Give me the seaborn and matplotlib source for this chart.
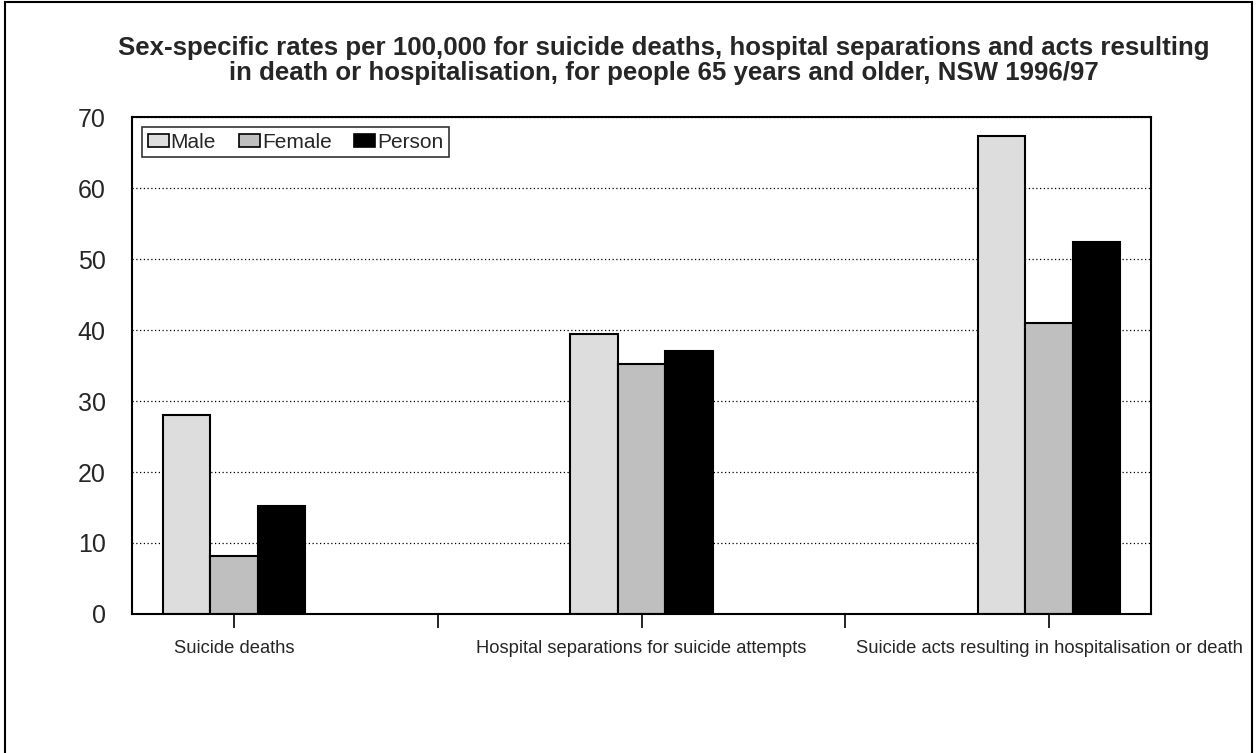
import pandas as pd
import matplotlib.pyplot as plt
import matplotlib.patches as mpatches
import seaborn as sns

sns.set_style('white')
plt.rcParams['font.family'] = ['Liberation Sans', 'DejaVu Sans']

# 데이터
categories = ['Suicide deaths',
              'Hospital separations for suicide attempts',
              'Suicide acts resulting in hospitalisation or death']
groups = ['Male', 'Female', 'Person']
male = [28.0, 39.4, 67.3]
female = [8.2, 35.2, 41.0]
person = [15.2, 37.0, 52.4]
colors = ['#DDDDDD', '#BFBFBF', '#000000']

rows = []
for g, vals in zip(groups, [male, female, person]):
    for c, v in zip(categories, vals):
        rows.append({'category': c, 'group': g, 'rate': v})
df = pd.DataFrame(rows)

fig = plt.figure(figsize=(12.6, 7.53), dpi=100)
ax = fig.add_axes([0.1048, 0.1846, 0.8087, 0.66])

sns.barplot(data=df, x='category', y='rate', hue='group', order=categories,
            hue_order=groups, palette=colors, width=0.35, gap=0,
            edgecolor='black', linewidth=1.5, saturation=1, ax=ax, legend=False)

ax.set_xlim(-0.25, 2.25)
ax.set_ylim(0, 70)
ax.set_yticks(range(0, 71, 10))
ax.set_xticks([0, 1, 2])
ax.set_xticks([0.5, 1.5], minor=True)
ax.set_xticklabels(categories, fontsize=13.2)
ax.tick_params(axis='y', labelsize=18, length=0, pad=19)
ax.tick_params(axis='x', which='both', direction='out', length=10, width=1.2,
               color='black', bottom=True, pad=9)
ax.set_xlabel('')
ax.set_ylabel('')

ax.yaxis.grid(True, linestyle=(0, (1, 2)), color='black', linewidth=0.9)
ax.set_axisbelow(True)
for s in ax.spines.values():
    s.set_visible(True)
    s.set_color('black')
    s.set_linewidth(1.5)

# 범례
handles = [mpatches.Patch(facecolor=c, edgecolor='black', linewidth=1.2, label=g)
           for g, c in zip(groups, colors)]
leg = ax.legend(handles=handles, loc='upper left', ncol=3, fontsize=15,
                frameon=True, fancybox=False, edgecolor='black',
                handlelength=1.0, handleheight=0.6, handletextpad=0.1,
                columnspacing=1.1, borderpad=0.25, borderaxespad=0.5)
leg.get_frame().set_linewidth(1.2)

fig.text(0.527, 0.92, 'Sex-specific rates per 100,000 for suicide deaths, hospital separations and acts resulting\n'
         'in death or hospitalisation, for people 65 years and older, NSW 1996/97',
         ha='center', va='center', fontsize=18.6, fontweight='bold', linespacing=1.05)

# 외곽 테두리
fig.patches.append(mpatches.Rectangle((0.004, -0.01), 0.99, 1.007, transform=fig.transFigure,
                                      fill=False, edgecolor='black', linewidth=1.5))

fig.savefig('out.png', dpi=100, facecolor='white')
